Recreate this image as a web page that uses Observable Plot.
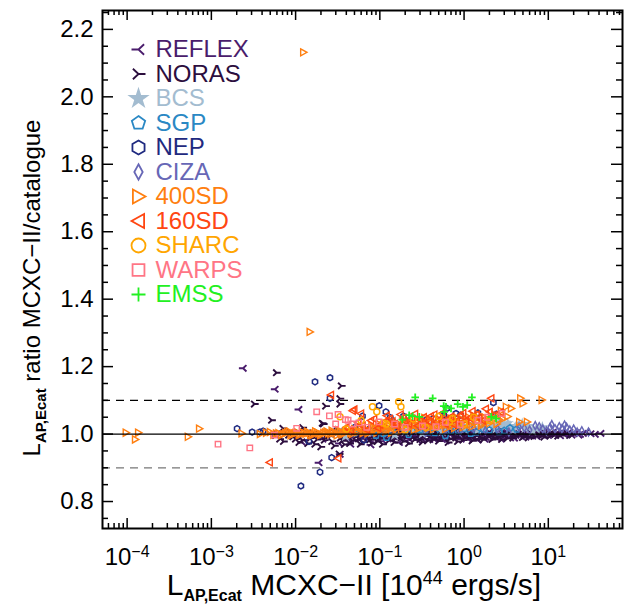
<!DOCTYPE html>
<html><head><meta charset="utf-8">
<script src="https://cdn.jsdelivr.net/npm/d3@7"></script>
<script src="https://cdn.jsdelivr.net/npm/@observablehq/plot@0.6"></script>
<style>body{margin:0;background:#fff}#c{width:636px;height:608px}svg{font-family:"Liberation Sans",Arial,sans-serif}</style>
</head><body><div id="c"></div>
<script>
// ---------- data ----------
const surveys = ["REFLEX","NORAS","BCS","SGP","NEP","CIZA","400SD","160SD","SHARC","WARPS","EMSS"];
const colors  = ["#4a1c6c","#2c0e3e","#a3bcd0","#2a88c4","#1f2a80","#6767b6","#ff7f10","#ff4612","#ffa600","#ff7585","#22f022"];

const reflexPts = [[0.00238,1.195],[0.0057,1.133],[0.0109,1.073],[0.0118,0.977],[0.0189,0.915],[0.0337,0.940],[0.045,0.970],
 [0.021,0.985],[0.028,1.012],[0.033,0.972],[0.041,1.004],[0.047,0.991],[0.052,1.018],[0.058,0.982],[0.064,1.006],[0.071,0.995],[0.078,0.968],
 [0.085,1.010],[0.092,0.988],[0.10,1.002],[0.11,0.979],[0.12,1.014],[0.13,0.993],[0.14,0.985],[0.155,1.005],[0.17,0.975],[0.18,0.998],
 [0.20,1.008],[0.22,0.987],[0.24,0.995],[0.26,1.012],[0.28,0.982],[0.30,1.001],[0.33,0.990],[0.36,1.006],[0.39,0.984],[0.42,0.997],
 [0.45,1.010],[0.49,0.989],[0.53,1.003],[0.57,0.993],[0.61,0.980],[0.66,1.007],[0.71,0.996],[0.76,0.986],[0.82,1.004],[0.88,0.991],
 [0.95,1.012],[1.02,0.998],[1.1,0.987],[1.18,1.006],[1.27,0.994],[1.37,1.002],[1.47,0.983],[1.58,1.009],[1.7,0.997],[1.83,0.990],
 [1.97,1.005],[2.1,0.995],[2.3,1.011],[2.45,0.988],[2.65,1.001],[2.85,0.993],[3.05,1.007],[3.3,0.997],[3.55,0.989],[3.8,1.004],
 [4.1,0.996],[4.4,1.010],[4.8,0.992],[5.2,1.003],[5.6,0.997],[6.0,1.008],[6.5,0.994],[7.0,1.002],[7.6,0.998],[8.2,1.006],[8.9,0.995],
 [9.6,1.003],[10.4,0.999],[11.3,1.005],[12.2,0.996],[13.3,1.002],[14.5,1.007],[15.8,0.998],[17.2,1.003],[19,0.997],[21.5,1.004],
 [24,0.999],[28.3,1.006],[32,1.001],[42,1.002],
 [0.035,0.995],[0.043,0.983],[0.055,1.000],[0.062,0.990],[0.068,1.015],[0.075,0.985],[0.083,0.998],[0.09,1.006],[0.097,0.980],[0.105,0.993],
 [0.115,1.007],[0.125,0.986],[0.135,1.001],[0.148,0.992],[0.162,1.013],[0.176,0.989],[0.19,0.997],[0.21,0.979],[0.23,1.003],[0.25,0.991],
 [0.27,1.007],[0.29,0.994],[0.315,0.986],[0.345,1.011],[0.37,0.996],[0.40,1.004],[0.44,0.985],[0.47,0.999],[0.51,1.008],[0.55,0.984],
 [0.59,1.001],[0.64,0.992],[0.69,1.012],[0.74,0.999],[0.79,0.994],[0.85,1.009],[0.92,0.985],[0.99,1.001],[1.06,0.993],[1.14,1.013],
 [1.22,0.999],[1.32,0.988],[1.42,1.004],[1.52,0.995],[1.64,1.012],[1.76,0.985],[1.9,1.000],[2.03,0.991],[2.2,1.004],[2.37,0.997],
 [2.55,1.009],[2.75,0.985],[2.95,0.999],[3.2,1.012],[3.45,0.994],[3.7,1.001],[3.95,0.988],[4.25,1.004],[4.6,0.998],[5.0,1.007],
 [5.4,0.991],[5.8,1.002],[6.25,0.996],[6.75,1.005],[7.3,0.993],[7.9,1.001],[8.5,0.997],[9.2,1.008],[10,0.996],[10.8,1.002],[11.8,0.998],
 [12.8,1.004],[13.9,0.995],[15,1.001],[16.5,0.997],[18,1.005],[20,1.001],[23,0.997],[26,1.002],[36,0.999]];
const norasPts = [[0.00594,1.182],[0.00325,1.089],[0.0052,1.041],[0.0071,1.017],[0.0122,1.019],[0.0214,1.030],[0.0228,1.083],[0.0337,1.089],
 [0.035,1.143],[0.0337,1.105],[0.0083,0.997],[0.012,0.982],[0.0208,1.032],[0.033,0.941],
 [0.0065,0.985],[0.0078,1.003],[0.0093,0.992],[0.011,0.975],[0.013,1.008],[0.015,0.988],[0.017,0.970],[0.019,1.000],[0.022,0.982],
 [0.025,0.995],[0.029,0.965],[0.032,1.010],[0.036,0.980],[0.040,0.993],[0.044,0.972],[0.05,1.003],[0.056,0.986],[0.062,0.976],
 [0.069,0.998],[0.076,0.983],[0.084,1.012],[0.093,0.978],[0.103,0.992],[0.115,1.004],[0.128,0.981],[0.14,0.996],[0.156,0.988],
 [0.172,1.009],[0.19,0.978],[0.21,0.993],[0.235,1.003],[0.26,0.984],[0.29,0.997],[0.32,0.976],[0.355,1.006],[0.39,0.991],[0.43,0.983],
 [0.48,1.001],[0.53,0.987],[0.59,0.998],[0.65,0.975],[0.72,1.008],[0.8,0.989],[0.88,0.996],[0.97,0.982],[1.07,1.003],[1.19,0.991],
 [1.31,0.985],[1.45,0.999],[1.6,0.988],[1.77,1.004],[1.95,0.993],[2.15,0.984],[2.4,1.000],[2.65,0.992],[2.95,1.005],[3.25,0.987],
 [3.6,0.999],[4.0,0.993],[4.45,1.002],[4.95,0.990],[5.5,0.998],[6.1,1.004],[6.8,0.993],[7.5,1.000],[8.4,0.996],[9.3,1.005],
 [10.5,0.994],[12,1.000],[14,0.997],[16.5,1.003],[19.5,0.999],
 [0.0058,0.996],[0.0072,0.978],[0.0086,1.006],[0.01,0.985],[0.012,0.996],[0.014,0.972],[0.016,1.004],[0.018,0.984],[0.020,0.962],[0.023,0.991],
 [0.027,0.978],[0.030,1.000],[0.034,0.988],[0.038,0.969],[0.042,1.006],[0.047,0.981],[0.053,0.994],[0.059,0.970],[0.066,1.005],[0.073,0.990],
 [0.08,0.973],[0.088,0.997],[0.098,0.986],[0.108,0.970],[0.12,1.001],[0.134,0.990],[0.148,0.975],[0.164,1.002],[0.18,0.989],[0.2,0.999],
 [0.22,0.972],[0.245,0.990],[0.27,1.008],[0.3,0.984],[0.335,0.995],[0.37,0.980],[0.41,1.001],[0.455,0.990],[0.5,0.979],[0.56,0.995],
 [0.62,1.004],[0.68,0.986],[0.76,0.993],[0.84,0.978],[0.93,1.002],[1.02,0.989],[1.13,0.996],[1.25,0.980],[1.38,1.006],[1.52,0.991],
 [1.68,0.983],[1.85,0.997],[2.05,1.003],[2.25,0.989],[2.5,0.995],[2.8,0.984],[3.1,1.001],[3.4,0.993],[3.8,0.988],[4.2,0.998],[4.7,1.004],
 [5.2,0.994],[5.8,0.989],[6.5,1.000],[7.2,0.995],[8,1.003],[8.9,0.991],[9.9,0.999],[11,1.004],[13,0.994],[15,1.001],[18,0.996]];
const bcsPts = [[0.039,0.994],[0.08,1.005],[0.12,1.015],[0.15,0.998],[0.2,1.008],[0.25,1.012],[0.32,1.002],[0.4,1.020],[0.55,1.008],[0.6,1.018],
 [0.75,1.026],[0.9,1.020],[1.0,1.015],[1.15,1.024],[1.3,1.030],[1.45,1.012],[1.6,1.018],[1.75,1.028],[1.93,1.041],[2.2,1.025],[2.4,1.016],
 [2.6,1.036],[2.8,1.030],[3.0,1.022],[3.3,1.032],[3.5,1.024],[3.8,1.012],[4.1,1.020],[4.5,1.028],[4.9,1.030],[5.3,1.018],[5.8,1.024],
 [6.5,1.010],[7.2,1.016],[8.5,1.020]];
const sgpPts = [[0.035,1.005],[0.05,1.003],[0.07,1.008],[0.09,0.996],[0.11,1.002],[0.12,0.990],[0.14,1.008],[0.18,1.020],[0.22,0.999],
 [0.28,1.015],[0.3,1.012],[0.38,1.006],[0.45,1.004],[0.6,0.995],[0.7,1.010],[0.85,1.010],[1.0,1.016],[1.2,1.002],[1.4,1.006],[1.7,1.014],
 [2.0,1.012],[2.6,1.007],[3.0,1.010],[3.5,1.018],[4.2,1.014]];
const nepPts = [[0.00202,1.016],[0.00305,1.006],[0.00376,1.006],[0.00412,1.009],[0.0056,1.000],[0.0100,1.004],[0.0144,0.978],[0.0170,1.155],
 [0.0256,1.167],[0.0256,1.106],[0.0268,0.930],[0.0195,0.887],[0.01156,0.846],[0.0622,1.053],[0.065,0.982],[0.098,1.084],[0.118,1.066],
 [0.133,1.049],[0.191,1.053],[0.35,1.041],[0.43,1.046],[0.573,1.056],[0.626,1.076],[0.80,1.061],[0.91,1.056],[0.58,1.053],[0.85,1.022],
 [1.46,1.063],[2.23,1.093],[2.42,1.059],[0.05,1.020],[0.08,1.010],[0.25,1.010],[0.14,1.040]];
const cizaPts = [[0.35,1.005],[0.6,1.012],[0.9,1.008],[1.3,1.018],[1.8,1.010],[2.5,1.015],[3.4,1.006],[4.5,1.020],[5.2,1.018],[6.0,1.012],
 [7,1.025],[7.8,1.022],[8.6,1.015],[9.5,1.009],[10.5,1.020],[11,1.028],[12,1.016],[13.5,1.022],[14.5,1.016],[15.6,1.027],[16.5,1.020],
 [18,1.012],[20,1.015],[22,1.006],[25,1.010],[30,1.006]];
const sd400Pts = [[0.0124,2.132],[0.0148,1.303],[0.000097,1.004],[0.000136,1.004],[0.000125,0.984],[0.00053,0.992],[0.00072,1.016],[0.0023,1.002],
 [4.68,1.106],[5.0,1.091],[8.4,1.101],[3.16,1.081],[3.63,1.076],[2.76,1.069],[4.55,1.036],[5.62,1.036],
 [0.0045,1.004],[0.0055,0.998],[0.0063,1.003],[0.0072,1.000],[0.0080,1.006],[0.0088,0.996],[0.0096,1.002],[0.0105,1.005],[0.0115,0.999],
 [0.0126,1.003],[0.0138,1.007],[0.015,0.998],[0.0165,1.002],[0.018,1.005],[0.0197,0.997],[0.0215,1.003],[0.0235,1.008],[0.026,1.000],
 [0.028,1.004],[0.031,0.996],[0.034,1.006],[0.037,1.001],[0.041,1.010],[0.045,1.003],[0.05,1.015],[0.055,1.006],[0.06,1.020],[0.066,1.009],
 [0.072,1.002],[0.08,1.025],[0.088,1.013],[0.097,1.030],[0.107,1.018],[0.118,1.008],[0.13,1.024],[0.143,1.035],[0.157,1.015],[0.173,1.028],
 [0.19,1.042],[0.21,1.020],[0.23,1.033],[0.255,1.012],[0.28,1.040],[0.31,1.027],[0.34,1.048],[0.375,1.018],[0.41,1.035],[0.45,1.025],
 [0.5,1.044],[0.55,1.030],[0.6,1.015],[0.66,1.038],[0.73,1.026],[0.8,1.050],[0.88,1.033],[0.97,1.020],[1.07,1.042],[1.18,1.028],
 [1.3,1.055],[1.43,1.036],[1.6,1.025],[1.8,1.048],[2.0,1.032],[2.3,1.058],[2.6,1.043],
 [0.0038,1.000],[0.0050,1.006],[0.0059,1.002],[0.0068,0.997],[0.0076,1.003],[0.0084,1.008],[0.0092,0.999],[0.010,1.003],[0.011,0.997],
 [0.012,1.006],[0.0132,1.001],[0.0144,1.004],[0.0157,0.996],[0.0172,1.008],[0.0188,1.002],[0.0205,0.999],[0.0225,1.005],[0.0245,1.002],
 [0.027,1.010],[0.0295,1.003],[0.0325,1.012],[0.0355,0.999],[0.039,1.006],[0.043,1.016],[0.047,1.000],[0.052,1.009],[0.057,1.022],
 [0.063,1.003],[0.069,1.014],[0.076,1.007],[0.084,1.019],[0.092,1.004],[0.102,1.012],[0.112,1.026],[0.124,1.015],[0.137,1.004],[0.15,1.022],
 [0.165,1.031],[0.18,1.010],[0.2,1.027],[0.22,1.038],[0.24,1.022],[0.265,1.030],[0.29,1.016],[0.32,1.037],[0.355,1.028],[0.39,1.045],
 [0.43,1.014],[0.47,1.032],[0.52,1.022],[0.57,1.040],[0.63,1.028],[0.7,1.046],[0.77,1.018],[0.85,1.037],[0.93,1.045],[1.02,1.030],
 [1.12,1.050],[1.24,1.022],[1.37,1.044],[1.5,1.058],[1.65,1.032],[1.9,1.040],[2.15,1.052],[2.45,1.030],[2.9,1.045],[3.3,1.052]];
const sd160Pts = [[0.0049,0.916],[0.0261,1.116],[0.0319,0.928],[0.0473,1.069],[0.0494,1.073],[0.0594,1.061],[2.09,1.106],
 [0.04,1.020],[0.055,1.035],[0.07,1.012],[0.085,1.045],[0.1,1.028],[0.12,1.055],[0.14,1.038],[0.16,1.022],[0.19,1.048],[0.22,1.030],
 [0.26,1.060],[0.3,1.042],[0.35,1.025],[0.4,1.053],[0.47,1.036],[0.55,1.062],[0.65,1.045],[0.75,1.028],[0.9,1.055],[1.05,1.040],
 [1.25,1.068],[1.5,1.048],[1.8,1.075],[2.2,1.055],[2.7,1.065],
 [0.045,1.010],[0.062,1.025],[0.078,1.040],[0.095,1.018],[0.11,1.035],[0.13,1.045],[0.15,1.030],[0.175,1.058],[0.2,1.038],[0.24,1.046],
 [0.28,1.025],[0.33,1.050],[0.38,1.038],[0.44,1.058],[0.52,1.045],[0.6,1.030],[0.7,1.052],[0.82,1.040],[0.97,1.062],[1.15,1.048],
 [1.4,1.058],[1.65,1.040],[2.0,1.066]];
const sharcPts = [[0.0337,1.051],[0.0818,1.081],[0.092,1.066],[0.167,1.096],[0.178,1.081],[0.73,1.046],[0.67,1.036],[0.06,1.040],[0.11,1.033],
 [0.12,1.030],[0.25,1.045],[0.35,1.020],[0.5,1.052],[1.0,1.030],[1.3,1.050],[0.04,1.015],[0.2,1.012],[2.0,1.040]];
const warpsPts = [[0.0012,0.970],[0.00286,0.959],[0.0056,0.997],[0.0103,1.017],[0.0178,1.066],[0.0252,1.054],[0.0319,1.058],[0.042,1.041],
 [0.0299,1.030],[0.047,1.030],[0.0565,1.033],[0.098,1.036],[0.32,1.024],[0.466,1.022],[1.46,1.041],[2.8,1.061],[0.07,1.020],[0.15,1.030],
 [0.2,1.020],[0.6,1.035],[0.9,1.028],[1.9,1.050],[0.039,1.043]];
const emssPts = [[0.263,1.109],[0.424,1.106],[1.24,1.109],[0.223,1.056],[0.245,1.053],[0.294,1.051],[0.573,1.083],[0.84,1.089],[0.97,1.081],
 [1.09,1.086],[0.61,1.081],[0.58,1.066],[2.1,1.051],[2.4,1.046],[0.7,1.076],[0.185,1.043]];
const seriesPts = [reflexPts,norasPts,bcsPts,sgpPts,nepPts,cizaPts,sd400Pts,sd160Pts,sharcPts,warpsPts,emssPts];

const yMajor = [0.8,1.0,1.2,1.4,1.6,1.8,2.0,2.2];
const yMinor = [0.75,0.85,0.9,0.95,1.05,1.1,1.15,1.25,1.3,1.35,1.45,1.5,1.55,1.65,1.7,1.75,1.85,1.9,1.95,2.05,2.1,2.15,2.25];
const xMajor = [1e-4,1e-3,1e-2,1e-1,1,10];
const xExp   = ["−4","−3","−2","−1","0","1"];
const xMinor = [6e-5,7e-5,8e-5,9e-5,
  2e-4,3e-4,4e-4,5e-4,6e-4,7e-4,8e-4,9e-4, 2e-3,3e-3,4e-3,5e-3,6e-3,7e-3,8e-3,9e-3,
  0.02,0.03,0.04,0.05,0.06,0.07,0.08,0.09, 0.2,0.3,0.4,0.5,0.6,0.7,0.8,0.9,
  2,3,4,5,6,7,8,9, 20,30,40,50,60,70];

// ---------- symbols ----------
const rad = s => Math.sqrt(s/Math.PI);
const poly = (c, pts) => { c.moveTo(pts[0][0],pts[0][1]); for (const p of pts.slice(1)) c.lineTo(p[0],p[1]); c.closePath(); };
const symTriL = {draw(c,s){const r=rad(s); c.moveTo(-r,0); c.lineTo(0,0); c.lineTo(r*0.8,-r*0.75); c.moveTo(0,0); c.lineTo(r*0.8,r*0.75);}};
const symTriR = {draw(c,s){const r=rad(s); c.moveTo(r,0); c.lineTo(0,0); c.lineTo(-r*0.8,-r*0.75); c.moveTo(0,0); c.lineTo(-r*0.8,r*0.75);}};
const symPent = {draw(c,s){const r=rad(s); poly(c, d3.range(5).map(k=>[r*Math.cos(-Math.PI/2+k*2*Math.PI/5), r*Math.sin(-Math.PI/2+k*2*Math.PI/5)]));}};
const symHex  = {draw(c,s){const r=rad(s); poly(c, d3.range(6).map(k=>[r*Math.cos(-Math.PI/2+k*Math.PI/3), r*Math.sin(-Math.PI/2+k*Math.PI/3)]));}};
const symDiam = {draw(c,s){const r=rad(s); poly(c, [[0,-r*1.1],[r*0.6,0],[0,r*1.1],[-r*0.6,0]]);}};
const symTriRt= {draw(c,s){const r=rad(s); poly(c, [[-r*0.8,-r],[r,0],[-r*0.8,r]]);}};
const symTriLt= {draw(c,s){const r=rad(s); poly(c, [[r*0.8,-r],[-r,0],[r*0.8,r]]);}};
const symCirc = {draw(c,s){const r=rad(s); c.moveTo(r,0); c.arc(0,0,r,0,2*Math.PI);}};
const symSq   = {draw(c,s){const r=rad(s)*0.85; poly(c, [[-r,-r],[r,-r],[r,r],[-r,r]]);}};
const symPlus = {draw(c,s){const r=rad(s); c.moveTo(-r,0); c.lineTo(r,0); c.moveTo(0,-r); c.lineTo(0,r);}};
const symbols = [symTriL,symTriR,d3.symbolStar,symPent,symHex,symDiam,symTriRt,symTriLt,symCirc,symSq,symPlus];
const filled  = [false,false,true,false,false,false,false,false,false,false,false];
const dotR    = [4.2,4.2,3.8,3.4,3.0,3.6,3.5,3.5,3.0,3.2,3.8];
const dotW    = [1.9,1.9,1,1.5,1.5,1.5,1.4,1.4,1.5,1.4,1.8];

// ---------- layout ----------
const W=636, H=608, ML=102, MR=14, MT=10, MB=80;
const IW=W-ML-MR, IH=H-MT-MB;

const marks = [
  Plot.ruleY([1.1], {stroke:"#000", strokeWidth:1.2, strokeDasharray:"8,6"}),
  Plot.ruleY([0.9], {stroke:"#777", strokeWidth:1.2, strokeDasharray:"8,6"}),
];
seriesPts.forEach((pts,i)=>{
  marks.push(Plot.dot(pts, {x:d=>d[0], y:d=>d[1], symbol:symbols[i], r:dotR[i],
    stroke: filled[i] ? "none" : colors[i], fill: filled[i] ? colors[i] : "none", strokeWidth:dotW[i]}));
});
marks.push(Plot.ruleY([1.0], {stroke:"#000", strokeWidth:1.2}));
marks.push(
  Plot.tickY(yMinor, {y:d=>d, insetRight:IW-6, strokeWidth:1.5, stroke:"#000"}),
  Plot.tickY(yMinor, {y:d=>d, insetLeft:IW-6, strokeWidth:1.5, stroke:"#000"}),
  Plot.tickY(yMajor, {y:d=>d, insetRight:IW-11, strokeWidth:1.5, stroke:"#000"}),
  Plot.tickY(yMajor, {y:d=>d, insetLeft:IW-11, strokeWidth:1.5, stroke:"#000"}),
  Plot.tickX(xMinor, {x:d=>d, insetTop:IH-5, strokeWidth:1.5, stroke:"#000"}),
  Plot.tickX(xMinor, {x:d=>d, insetBottom:IH-5, strokeWidth:1.5, stroke:"#000"}),
  Plot.tickX(xMajor, {x:d=>d, insetTop:IH-10, strokeWidth:1.5, stroke:"#000"}),
  Plot.tickX(xMajor, {x:d=>d, insetBottom:IH-10, strokeWidth:1.5, stroke:"#000"}),
  Plot.frame({stroke:"#000", strokeWidth:2}),
  Plot.text(yMajor, {y:d=>d, frameAnchor:"left", dx:-9, textAnchor:"end", text:d=>d.toFixed(1), fontSize:24, fill:"#000"}),
  Plot.text(xMajor, {x:d=>d, frameAnchor:"bottom", dy:29, lineAnchor:"middle", text:()=>"10", fontSize:24, fill:"#000", className:"xlab"})
);
// legend
surveys.forEach((name,i)=>{
  const dy = 39 + 24.5*i;
  marks.push(Plot.dot([name], {frameAnchor:"top-left", dx:36, dy, symbol:symbols[i], r:7,
    stroke: filled[i] ? "none" : colors[i], fill: filled[i] ? colors[i] : "none", strokeWidth:1.8}));
  marks.push(Plot.text([name], {frameAnchor:"top-left", dx:53, dy, lineAnchor:"middle", text:d=>d, textAnchor:"start", fontSize:24, fill:colors[i]}));
});

const chart = Plot.plot({
  width:W, height:H, marginLeft:ML, marginRight:MR, marginTop:MT, marginBottom:MB,
  style:{fontFamily:'"Liberation Sans", Arial, sans-serif', background:"#fff"},
  x:{type:"log", domain:[5.1e-5, 76], axis:null},
  y:{domain:[0.72, 2.256], axis:null},
  marks
});
document.getElementById("c").appendChild(chart);

const svg = d3.select(chart);
svg.selectAll("g.xlab text").each(function(d,i){
  d3.select(this).append("tspan").attr("dy","-0.5em").attr("font-size","16px").text(xExp[i]);
});
// axis titles
const xt = svg.append("text").attr("x", 354).attr("y", 595).attr("text-anchor","middle")
  .attr("font-size", 30).attr("fill","#000");
xt.append("tspan").text("L");
xt.append("tspan").attr("font-size",16).attr("font-weight","bold").attr("dy",6).text("AP,Ecat");
xt.append("tspan").attr("dy",-6).text(" MCXC−II [10");
xt.append("tspan").attr("font-size",18).attr("dy",-11).text("44");
xt.append("tspan").attr("dy",11).text(" ergs/s]");

const yt = svg.append("text").attr("transform", "translate(40,288) rotate(-90)").attr("text-anchor","middle")
  .attr("font-size", 24).attr("fill","#000");
yt.append("tspan").text("L");
yt.append("tspan").attr("font-size",15).attr("font-weight","bold").attr("dy",6).text("AP,Ecat");
yt.append("tspan").attr("dy",-6).text(" ratio MCXC−II/catalogue");
</script></body></html>
